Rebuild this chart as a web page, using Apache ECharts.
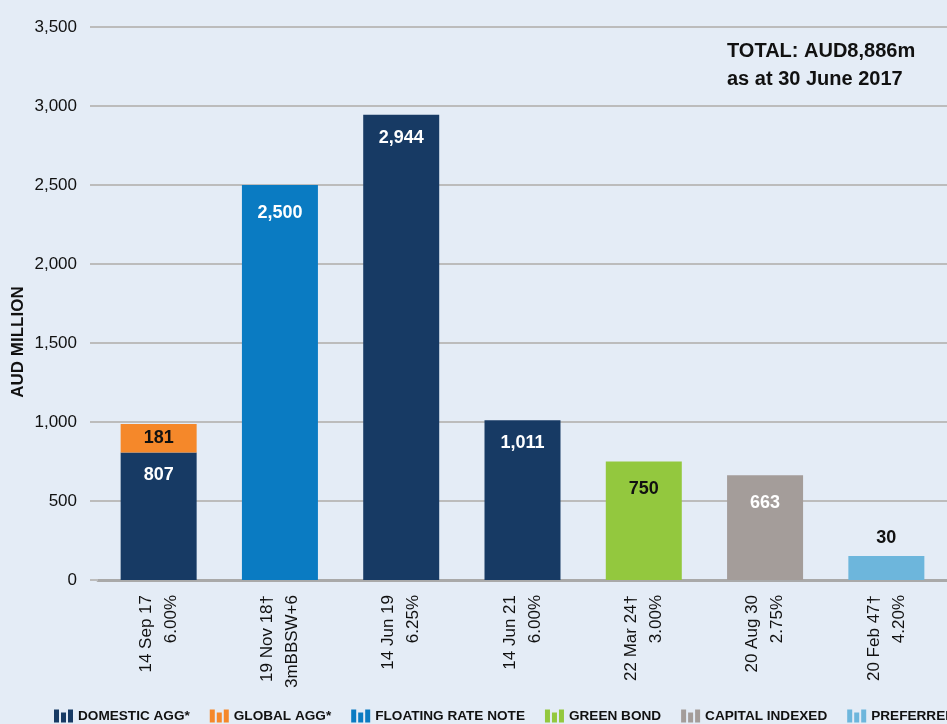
<!DOCTYPE html>
<html>
<head>
<meta charset="utf-8">
<title>AUD bonds on issue</title>
<script src="https://cdn.jsdelivr.net/npm/echarts@6/dist/echarts.min.js"></script>
<style>
    html, body { margin: 0; padding: 0; background: #e4ecf6; }
    #main { width: 947px; height: 724px; }
</style>
</head>
<body>
<div id="main"></div>
<script>
// 数据
var categories = ['14 Sep 17\n6.00%', '19 Nov 18†\n3mBBSW+6', '14 Jun 19\n6.25%', '14 Jun 21\n6.00%',
    '22 Mar 24†\n3.00%', '20 Aug 30\n2.75%', '20 Feb 47†\n4.20%'];
var domesticAgg = [807, '-', 2944, 1011, '-', '-', '-'];
var globalAgg = [181, '-', '-', '-', '-', '-', '-'];
var floatingRate = ['-', 2500, '-', '-', '-', '-', '-'];
var greenBond = ['-', '-', '-', '-', 750, '-', '-'];
var capitalIndexed = ['-', '-', '-', '-', '-', 663, '-'];
var preferred = ['-', '-', '-', '-', '-', '-', 30];
var yTicks = [0, 500, 1000, 1500, 2000, 2500, 3000, 3500];

var FONT = "'Liberation Sans', Arial, sans-serif";
// 图例图标：三根小柱子
var ICON = 'path://M0,0h5v13h-5z M7,3h5v10h-5z M14,0h5v13h-5z';

function fmt(v) {
    return String(v).replace(/\B(?=(\d{3})+(?!\d))/g, ',');
}

function barSeries(name, data, color, labelColor) {
    return {
        name: name,
        type: 'bar',
        stack: 'total',
        barWidth: 76,
        data: data,
        itemStyle: { color: color },
        label: {
            show: true,
            position: 'insideTop',
            distance: 19,
            color: labelColor,
            fontFamily: FONT,
            fontWeight: 'bold',
            fontSize: 18,
            formatter: function (p) { return fmt(p.value); }
        }
    };
}

function getOption() {
    var series = [
        barSeries('DOMESTIC AGG*', domesticAgg, '#173a64', '#ffffff'),
        barSeries('GLOBAL AGG*', globalAgg, '#f5882a', '#111111'),
        barSeries('FLOATING RATE NOTE', floatingRate, '#0a7bc2', '#ffffff'),
        barSeries('GREEN BOND', greenBond, '#93c83e', '#111111'),
        barSeries('CAPITAL INDEXED', capitalIndexed, '#a49d9a', '#ffffff'),
        barSeries('PREFERRED', preferred, '#6db6dc', '#111111')
    ];
    // 807 标签贴近上沿，181 居中在橙色段里，30 放在柱子上方
    series[0].label.distance = 14;
    series[1].label.position = 'inside';
    series[5].label.position = 'top';
    series[5].label.distance = 9;
    series[5].barMinHeight = 24;

    var option = {
        backgroundColor: '#e4ecf6',
        animation: false,
        textStyle: { fontFamily: FONT },
        title: {
            text: 'TOTAL: AUD8,886m\nas at 30 June 2017',
            left: 727,
            top: 37,
            padding: 0,
            textStyle: {
                fontFamily: FONT,
                fontWeight: 'bold',
                fontSize: 20,
                lineHeight: 28,
                color: '#111111'
            }
        },
        legend: {
            left: 54,
            top: 709,
            width: 1500,
            padding: 0,
            itemWidth: 19,
            itemHeight: 13,
            itemGap: 20,
            icon: ICON,
            selectedMode: false,
            textStyle: {
                fontFamily: FONT,
                fontWeight: 'bold',
                fontSize: 13.6,
                color: '#111111'
            },
            data: series.map(function (s) { return s.name; })
        },
        grid: {
            left: 98,
            right: -2,
            top: 27,
            bottom: 144
        },
        xAxis: {
            type: 'category',
            data: categories,
            axisLine: { lineStyle: { color: '#a9a9a9', width: 3 } },
            axisTick: { show: false },
            axisLabel: {
                rotate: 90,
                margin: 15,
                fontFamily: FONT,
                fontSize: 17,
                lineHeight: 25,
                color: '#111111'
            }
        },
        yAxis: {
            type: 'value',
            min: yTicks[0],
            max: yTicks[yTicks.length - 1],
            interval: 500,
            axisLine: { show: false },
            axisTick: { show: true, length: 8, lineStyle: { color: '#bcbcbc', width: 2 } },
            splitLine: { lineStyle: { color: '#bcbcbc', width: 2 } },
            axisLabel: {
                margin: 21,
                fontFamily: FONT,
                fontSize: 17,
                color: '#111111',
                formatter: function (v) { return fmt(v); }
            }
        },
        graphic: [{
            type: 'text',
            x: 18,
            y: 342,
            rotation: Math.PI / 2,
            style: {
                text: 'AUD MILLION',
                fontFamily: FONT,
                fontWeight: 'bold',
                fontSize: 17,
                fill: '#111111',
                align: 'center',
                verticalAlign: 'middle'
            }
        }],
        series: series
    };
    return option;
}

var chart = echarts.init(document.getElementById('main'));
chart.setOption(getOption());
</script>
</body>
</html>
